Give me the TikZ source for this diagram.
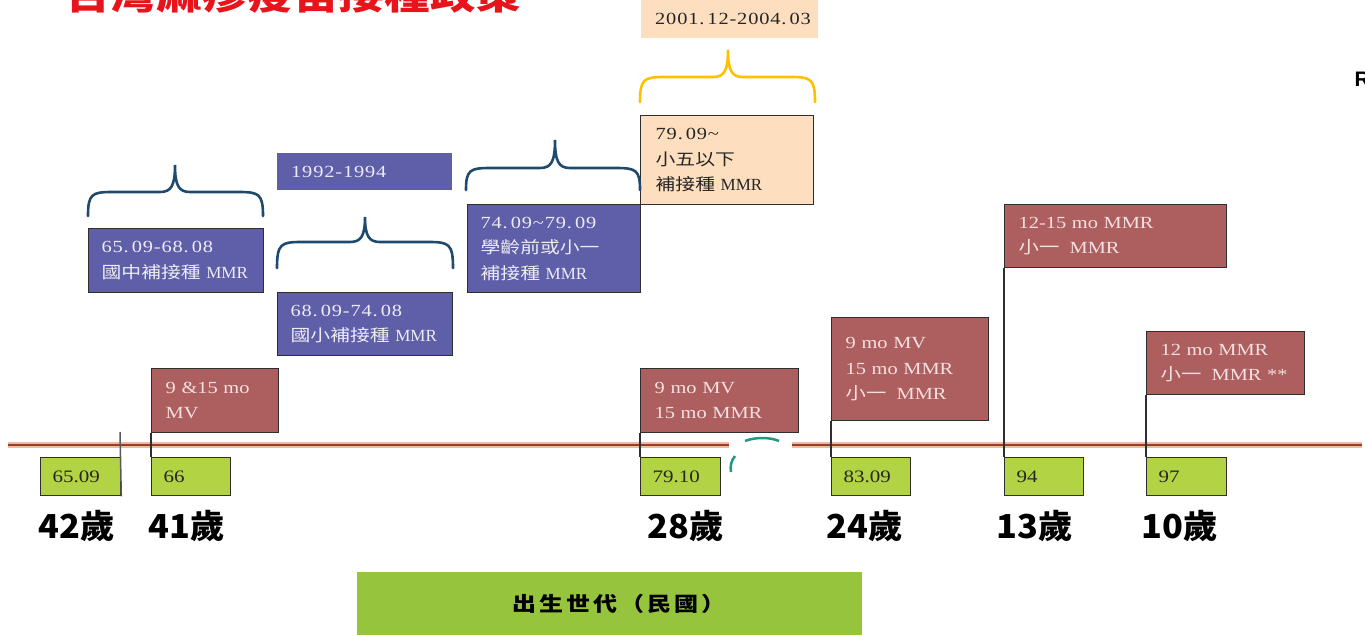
\documentclass[tikz,border=0pt]{standalone}
\usepackage{fontspec}
\setmainfont{Liberation Serif}
\newfontfamily\bxfont[FakeStretch=1.2]{Liberation Serif}
\newfontfamily\datefont[FakeStretch=1.2,LetterSpace=5]{Liberation Serif}
\newfontfamily\cjk[FakeStretch=1.2]{Noto Sans CJK TC}
\newfontfamily\agefont[FakeStretch=1.04]{Noto Sans CJK TC}
\newfontfamily\titlefont[FakeStretch=1.2]{Noto Sans CJK TC}
\newfontfamily\widecjk[FakeStretch=1.2,LetterSpace=15]{Noto Sans CJK TC}
\newfontfamily\rsans{Liberation Sans}
\newcommand\dotk{.\kern3pt}
\newcommand\mmr{{\rmfamily\fontsize{17}{25.5}\selectfont MMR}}
\definecolor{bluefill}{HTML}{5F5EA8}
\definecolor{bluetext}{HTML}{ECECF4}
\definecolor{redfill}{HTML}{AD5E5E}
\definecolor{redtext}{HTML}{F4E0E0}
\definecolor{greenfill}{HTML}{B2D343}
\definecolor{bottomgreen}{HTML}{96C43D}
\definecolor{peach}{HTML}{FDDFC0}
\definecolor{navy}{HTML}{1F4A6E}
\definecolor{gold}{HTML}{FFC000}
\definecolor{linecore}{HTML}{A3391F}
\definecolor{linehalo}{HTML}{E9BBA9}
\definecolor{boxline}{HTML}{2E2E2E}
\definecolor{tealarc}{HTML}{1E9A82}
\definecolor{titlered}{HTML}{E8141B}
\definecolor{darktext}{HTML}{262626}
\begin{document}
\begin{tikzpicture}[x=1pt,y=-1pt,
  basebox/.style={anchor=north west, align=left, inner ysep=0, inner xsep=13,
    font=\bxfont\fontsize{17}{25.5}\selectfont},
  bluebox/.style={basebox, draw=boxline, line width=1.3, fill=bluefill, text=bluetext},
  bluelabel/.style={basebox, fill=bluefill, text=bluetext, inner xsep=14},
  peachbox/.style={basebox, draw=boxline, line width=1.3, fill=peach, text=darktext, inner xsep=15},
  peachlabel/.style={basebox, fill=peach, text=darktext, inner xsep=14},
  redbox/.style={basebox, draw=boxline, line width=1.3, fill=redfill, text=redtext, inner xsep=14},
  greenbox/.style={basebox, draw=boxline, line width=1.3, fill=greenfill, text=darktext,
    inner xsep=12, minimum height=38, font=\bxfont\fontsize{17.5}{20}\selectfont},
  agelabel/.style={anchor=base west, inner sep=0, text=black,
    font=\agefont\bfseries\fontsize{33}{36}\selectfont},
  conn/.style={draw=boxline, line width=1.2},
  tick/.style={draw=gray!70!black, line width=1.5},
  navybrace/.style={draw=navy, line width=2.6, line cap=round},
  goldbrace/.style={draw=gold, line width=2.6, line cap=round}]
\useasboundingbox (0,0) rectangle (1365,635);

% title (cut by the top edge)
\node[anchor=base west, inner sep=0, text=titlered,
  font=\titlefont\bfseries\fontsize{38}{40}\selectfont] (title) at (65,9) {台灣麻疹疫苗接種政策};
\node[anchor=west, inner sep=0, font=\rsans\bfseries\fontsize{21}{24}\selectfont] (edge) at (1354.5,79) {R};

% timeline
\coordinate (L) at (8,445);
\coordinate (R) at (1362,445);
\draw[linehalo, line width=6] (L) -- (R);
\draw[linecore, line width=2.6] (L) -- (R);
\node[fill=white, inner sep=0, minimum width=63, minimum height=40, anchor=north west] (cover) at (729,437) {};
\draw[tealarc, line width=2.5] (745,441) .. controls (755,437) and (770,437) .. (779,441);
\draw[tealarc, line width=2.5] (735,456) .. controls (731,461) and (730,466) .. (731,472);

% blue boxes
\node[bluebox, text width=149, minimum height=64] (b1) at (88,228)
  {{\datefont 65\dotk 09-68\dotk 08}\\{\cjk\fontsize{16.5}{25.5}\selectfont 國中補接種}~\mmr};
\node[bluelabel, text width=147, minimum height=37] (b0) at (277,153) {{\datefont 1992-1994}};
\node[bluebox, text width=149, minimum height=63] (b2) at (277,292)
  {{\datefont 68\dotk 09-74\dotk 08}\\{\cjk\fontsize{16.5}{25.5}\selectfont 國小補接種}~\mmr};
\node[bluebox, text width=147, minimum height=88] (b3) at (467,204)
  {{\datefont 74\dotk 09\textasciitilde79\dotk 09}\\{\cjk\fontsize{16.5}{25.5}\selectfont 學齡前或小一}\\{\cjk\fontsize{16.5}{25.5}\selectfont 補接種}~\mmr};

% peach
\node[peachbox, text width=143, minimum height=89] (p1) at (640,115)
  {{\datefont 79\dotk 09\textasciitilde}\\{\cjk\fontsize{16.5}{25.5}\selectfont 小五以下}\\{\cjk\fontsize{16.5}{25.5}\selectfont 補接種}~\mmr};
\node[peachlabel, text width=149, minimum height=38] (p0) at (641,0) {\mbox{\datefont 2001\dotk 12-2004\dotk 03}};

% braces
\draw[navybrace] (88,216) .. controls (88,194) and (92,192) .. (112,192) -- (160,192)
  .. controls (171,192) and (175,186) .. (175,165)
  .. controls (175,186) and (179,192) .. (190,192) -- (239,192)
  .. controls (259,192) and (263,194) .. (263,216);
\draw[navybrace] (277,268) .. controls (277,244) and (281,242) .. (301,242) -- (350,242)
  .. controls (361,242) and (365,236) .. (365,217)
  .. controls (365,236) and (369,242) .. (380,242) -- (429,242)
  .. controls (449,242) and (453,244) .. (453,268);
\draw[navybrace] (466,190) .. controls (466,170) and (470,168) .. (490,168) -- (540,168)
  .. controls (551,168) and (555,162) .. (555,140)
  .. controls (555,162) and (559,168) .. (570,168) -- (616,168)
  .. controls (636,168) and (640,170) .. (640,190);
\draw[goldbrace] (640,102) .. controls (640,79) and (644,77) .. (664,77) -- (713,77)
  .. controls (724,77) and (728,71) .. (728,50)
  .. controls (728,71) and (732,77) .. (743,77) -- (791,77)
  .. controls (811,77) and (815,79) .. (815,102);

% red boxes
\node[redbox, text width=99, minimum height=64] (r1) at (151,368) {9 \&15 mo\\MV};
\node[redbox, text width=130, minimum height=64] (r2) at (640,368) {9 mo MV\\15 mo MMR};
\node[redbox, text width=129, minimum height=103] (r3) at (831,317)
  {9 mo MV\\15 mo MMR\\{\cjk 小一}\hspace{0.6em}MMR};
\node[redbox, text width=194, minimum height=63] (r4) at (1004,204)
  {12-15 mo MMR\\{\cjk 小一}\hspace{0.6em}MMR};
\node[redbox, text width=130, minimum height=63] (r5) at (1146,331)
  {12 mo MMR\\{\cjk 小一}\hspace{0.6em}MMR **};

% green boxes
\node[greenbox, text width=56] (g1) at (40,457) {65.09};
\node[greenbox, text width=55] (g2) at (151,457) {66};
\node[greenbox, text width=56] (g3) at (640,457) {79.10};
\node[greenbox, text width=55] (g4) at (831,457) {83.09};
\node[greenbox, text width=55] (g5) at (1004,457) {94};
\node[greenbox, text width=56] (g6) at (1146,457) {97};

% connectors
\coordinate (t1) at (120,432);
\draw[tick] (t1) -- (g1.south east);
\draw[conn] (r1.south west) -- (g2.north west);
\draw[conn] (r2.south west) -- (g3.north west);
\draw[conn] (r3.south west) -- (g4.north west);
\draw[conn] (r4.south west) -- (g5.north west);
\draw[conn] (r5.south west) -- (g6.north west);

% ages
\node[agelabel] (a1) at (38,538) {42歲};
\node[agelabel] (a2) at (148,538) {41歲};
\node[agelabel] (a3) at (647,538) {28歲};
\node[agelabel] (a4) at (826,538) {24歲};
\node[agelabel] (a5) at (996,538) {13歲};
\node[agelabel] (a6) at (1141,538) {10歲};

% bottom
\node[anchor=north west, fill=bottomgreen, minimum width=505, minimum height=63, inner sep=0,
  font=\widecjk\bfseries\fontsize{20}{22}\selectfont] (gen) at (357,572) {\hspace{18pt}出生世代（民國）};
\end{tikzpicture}
\end{document}
